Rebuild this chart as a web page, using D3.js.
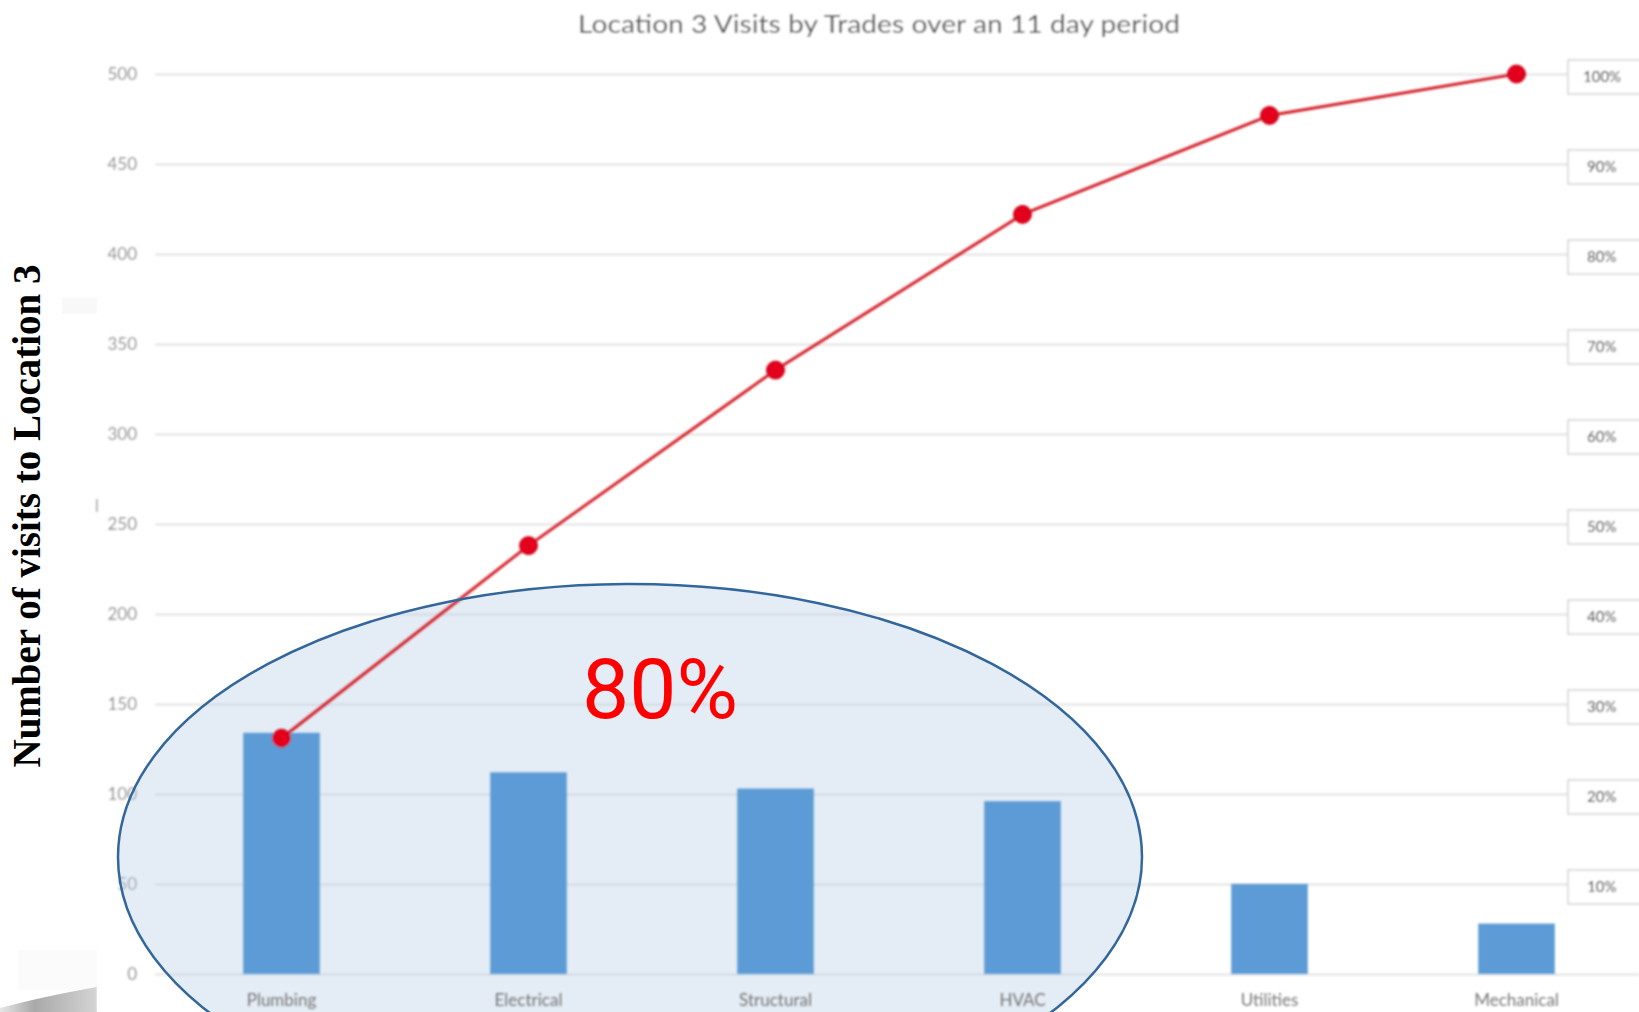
<!DOCTYPE html>
<html>
<head>
<meta charset="utf-8">
<script src="https://cdn.jsdelivr.net/npm/d3@7"></script>
<style>
  html, body { margin: 0; padding: 0; background: #ffffff; }
  svg { display: block; }
</style>
</head>
<body>
<svg id="chart" width="1639" height="1012"></svg>
<script>
// Visits per trade at Location 3 (11 days) and the running share of all visits
const categories = ["Plumbing", "Electrical", "Structural", "HVAC", "Utilities", "Mechanical"];
const visits = [134, 112, 103, 96, 50, 28];
const cumulativePct = [26.2, 47.6, 67.1, 84.4, 95.4, 100];
const countTicks = [0, 50, 100, 150, 200, 250, 300, 350, 400, 450, 500];
const pctTicks = [10, 20, 30, 40, 50, 60, 70, 80, 90, 100];
const titleText = "Location 3 Visits by Trades over an 11 day period";
const yTitleText = "Number of visits to Location 3";
const highlightText = "80%";

const W = 1639, H = 1012;
const svg = d3.select("#chart");
const defs = svg.append("defs");

// soft focus for the embedded chart picture
defs.append("filter").attr("id", "soft")
  .attr("x", "-5%").attr("y", "-5%").attr("width", "110%").attr("height", "110%")
  .append("feGaussianBlur").attr("stdDeviation", 0.8);

const sweep = defs.append("linearGradient").attr("id", "sweep")
  .attr("x1", "0").attr("y1", "0").attr("x2", "1").attr("y2", "0");
sweep.append("stop").attr("offset", "0").attr("stop-color", "#e6e6e6");
sweep.append("stop").attr("offset", "0.35").attr("stop-color", "#a9a9a9");
sweep.append("stop").attr("offset", "1").attr("stop-color", "#d4d4d4");

// slide decoration at the lower left
svg.append("rect").attr("x", 18).attr("y", 950).attr("width", 79).attr("height", 40).attr("fill", "#fbfbfb");
svg.append("path")
  .attr("d", "M0,1012 L0,1008 Q45,996 97,987 L97,1012 Z")
  .attr("fill", "url(#sweep)");
svg.append("rect").attr("x", 62).attr("y", 298).attr("width", 35).attr("height", 16).attr("fill", "#f8f8f8");

// scales
const x = d3.scaleBand().domain(categories).range([158, 1640])
  .paddingInner(0.69).paddingOuter(0.345);
const y = d3.scaleLinear().domain([0, 500]).range([974, 74]);
const yPct = d3.scaleLinear().domain([0, 100]).range([974, 74]);
const cx = d => x(d) + x.bandwidth() / 2;

// chart picture area
const pic = svg.append("g").attr("filter", "url(#soft)");
pic.append("rect").attr("x", 97).attr("y", 0).attr("width", W - 97).attr("height", H).attr("fill", "#ffffff");

pic.append("text")
  .attr("x", 879).attr("y", 33)
  .attr("text-anchor", "middle")
  .attr("font-family", "Lato, 'Open Sans', sans-serif")
  .attr("font-size", 25)
  .attr("fill", "#555555")
  .attr("textLength", 602)
  .attr("lengthAdjust", "spacingAndGlyphs")
  .text(titleText);

const yAxis = pic.append("g")
  .attr("transform", "translate(155,0)")
  .call(d3.axisLeft(y).tickValues(countTicks).tickSize(-(W - 155)).tickPadding(18));
yAxis.select(".domain").remove();
yAxis.selectAll(".tick line").attr("stroke", "#e2e2e2").attr("stroke-width", 2);
yAxis.selectAll(".tick text")
  .attr("font-family", "Lato, 'Open Sans', sans-serif")
  .attr("font-size", 17)
  .attr("fill", "#888888");

pic.append("line").attr("x1", 97).attr("x2", 97).attr("y1", 499).attr("y2", 512)
  .attr("stroke", "#9a9a9a").attr("stroke-width", 1.5);

// highlight region fill sits behind the bars
svg.append("ellipse")
  .attr("cx", 630).attr("cy", 857).attr("rx", 512).attr("ry", 273)
  .attr("fill", "#b8cce4").attr("fill-opacity", 0.38);

const marks = svg.append("g").attr("filter", "url(#soft)");

marks.selectAll("rect.bar")
  .data(categories)
  .join("rect")
  .attr("class", "bar")
  .attr("x", d => x(d))
  .attr("width", x.bandwidth())
  .attr("y", (d, i) => y(visits[i]))
  .attr("height", (d, i) => y(0) - y(visits[i]))
  .attr("fill", "#5b9bd5");

const line = d3.line()
  .x((d, i) => cx(categories[i]))
  .y(d => yPct(d));
marks.append("path")
  .datum(cumulativePct)
  .attr("d", line)
  .attr("fill", "none")
  .attr("stroke", "#d4232b")
  .attr("stroke-width", 3);

marks.selectAll("circle.pt")
  .data(cumulativePct)
  .join("circle")
  .attr("class", "pt")
  .attr("cx", (d, i) => cx(categories[i]))
  .attr("cy", d => yPct(d))
  .attr("r", 9)
  .attr("fill", "#e3001b")
  .attr("stroke", "#c0101a")
  .attr("stroke-width", 1);

// category labels
const xAxis = marks.append("g")
  .attr("transform", "translate(0,974)")
  .call(d3.axisBottom(x).tickSize(0));
xAxis.select(".domain").remove();
xAxis.selectAll(".tick text")
  .attr("dy", null)
  .attr("y", 32)
  .attr("font-family", "Lato, 'Open Sans', sans-serif")
  .attr("font-size", 17)
  .attr("fill", "#777777");

// secondary percentage labels in boxes
const pctBox = marks.selectAll("g.pct")
  .data(pctTicks)
  .join("g")
  .attr("class", "pct")
  .attr("transform", d => `translate(1568,${yPct(d) + 3})`);
pctBox.append("rect")
  .attr("x", 0).attr("y", -17).attr("width", 90).attr("height", 34)
  .attr("fill", "#ffffff").attr("stroke", "#d4d4d4").attr("stroke-width", 1.5);
pctBox.append("text")
  .attr("x", d => d === 100 ? 15 : 19)
  .attr("y", 5)
  .attr("font-family", "Lato, 'Open Sans', sans-serif")
  .attr("font-size", 15)
  .attr("fill", "#2e2e2e")
  .text(d => d + "%");

// highlight outline and its label
svg.append("ellipse")
  .attr("cx", 630).attr("cy", 857).attr("rx", 512).attr("ry", 273)
  .attr("fill", "none")
  .attr("stroke", "#33679c").attr("stroke-width", 2.5);

svg.append("text")
  .attr("x", 660).attr("y", 718)
  .attr("text-anchor", "middle")
  .attr("font-family", "Roboto, 'Liberation Sans', sans-serif")
  .attr("font-size", 84)
  .attr("fill", "#ff0000")
  .text(highlightText);

// value axis title
svg.append("text")
  .attr("transform", "translate(40,516) rotate(-90)")
  .attr("text-anchor", "middle")
  .attr("font-family", "'Liberation Serif', 'Times New Roman', serif")
  .attr("font-weight", "bold")
  .attr("font-size", 39)
  .attr("fill", "#000000")
  .text(yTitleText);
</script>
</body>
</html>
